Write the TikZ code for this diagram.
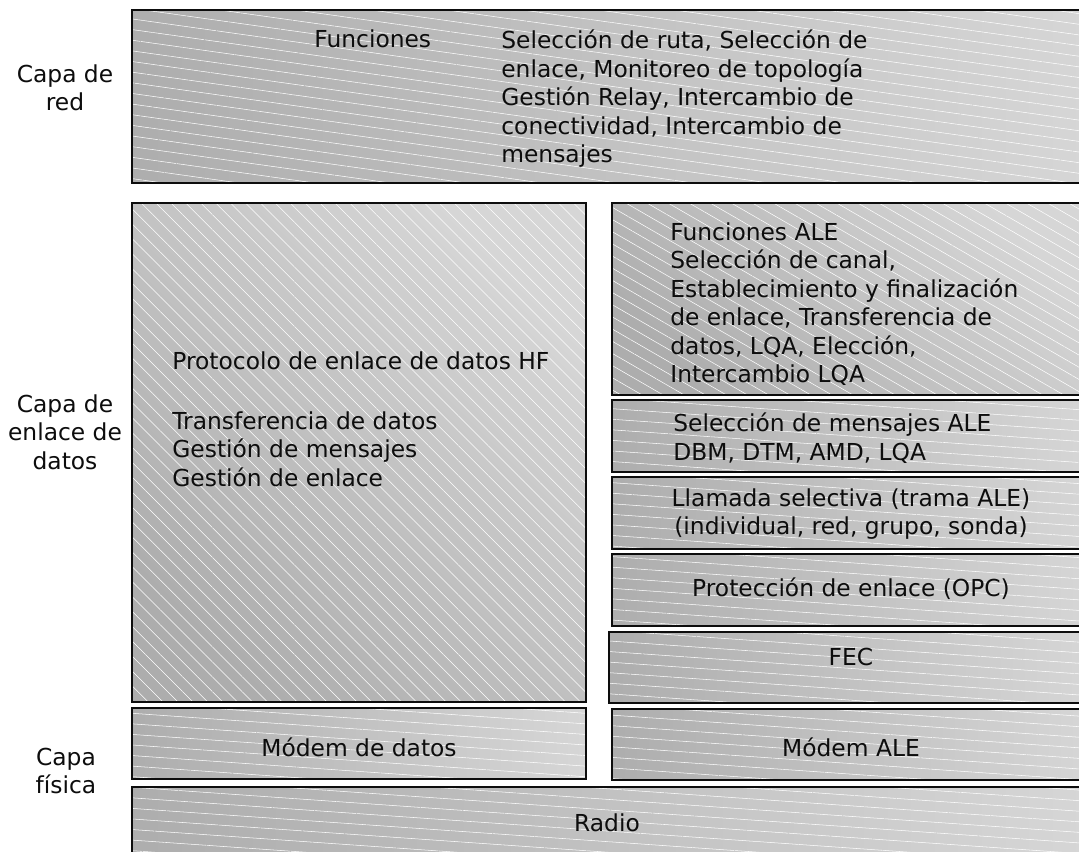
\documentclass[tikz,border=0pt]{standalone}
\usepackage{fontspec}
\setmainfont{DejaVu Sans}
\usetikzlibrary{fit,patterns.meta}
\definecolor{slate}{gray}{0.68}
\definecolor{mist}{gray}{0.84}
\definecolor{ink}{gray}{0.05}
\tikzset{
  layer/.style={left color=slate,right color=mist,inner sep=0pt,texture=#1,
    postaction={draw=ink,line width=1.2pt}},
  layer/.default=-4,
  texture/.style={postaction={pattern={Lines[angle=#1,distance=6pt,line width=0.3pt]},
    pattern color=white,fill opacity=0.11}},
  txt/.style={font=\fontsize{13.3}{16.2}\selectfont,text=ink,inner sep=0pt},
  side/.style={txt,align=center},
}

\begin{document}
\begin{tikzpicture}[x=0.02cm,y=-0.02cm]
  \useasboundingbox (0,0) rectangle (1079,852);
  \clip (0,0) rectangle (1079,852);
  % layer boxes
  \node[layer=-8,fit={(132,10)(1092,183)}] (netlayer) {};
  \node[layer=-45,shading angle=135,fit={(132,203)(586,702)}] (hfproto) {};
  \node[layer=-30,shading angle=135,fit={(612,203)(1092,395)}] (alefunc) {};
  \node[layer,fit={(612,400)(1092,472)}] (alemsg) {};
  \node[layer,fit={(612,477)(1092,549)}] (selcall) {};
  \node[layer,fit={(612,554)(1092,626)}] (linkprot) {};
  \node[layer,fit={(609,632)(1092,703)}] (fec) {};
  \node[layer,fit={(612,709)(1092,780)}] (alemodem) {};
  \node[layer,fit={(132,708)(586,779)}] (datamodem) {};
  \node[layer,fit={(132,787)(1092,870)}] (radio) {};
  % texts
  \node[txt,anchor=base west] (netfn) at (314,48) {Funciones};
  \node[txt,anchor=west,align=left] (netlist) at (501,99)
    {Selección de ruta, Selección de\\enlace, Monitoreo de topología\\Gestión Relay, Intercambio de\\conectividad, Intercambio de\\mensajes};
  \node[txt,anchor=base west] (hftitle) at (172,369) {Protocolo de enlace de datos HF};
  \node[txt,anchor=west,align=left] (hflist) at (172,449)
    {Transferencia de datos\\Gestión de mensajes\\Gestión de enlace};
  \node[txt,anchor=west,align=left] (alelist) at (670,304)
    {Funciones ALE\\Selección de canal,\\Establecimiento y finalización\\de enlace, Transferencia de\\datos, LQA, Elección,\\Intercambio LQA};
  \node[txt,anchor=west,align=left] (msglist) at (673,438)
    {Selección de mensajes ALE\\DBM, DTM, AMD, LQA};
  \node[txt,align=center] (calltxt) at (851,514)
    {Llamada selectiva (trama ALE)\\(individual, red, grupo, sonda)};
  \node[txt] (prottxt) at (851,589) {Protección de enlace (OPC)};
  \node[txt] (fectxt) at (851,657) {FEC};
  \node[txt] (aletxt) at (851,747) {Módem ALE};
  \node[txt] (datatxt) at (359,747) {Módem de datos};
  \node[txt] (radiotxt) at (607,823) {Radio};
  % layer names
  \node[side] (capared) at (65,88) {Capa de\\red};
  \node[side] (capaenl) at (65,432) {Capa de\\enlace de\\datos};
  \node[side] (capafis) at (66,771) {Capa\\física};
\end{tikzpicture}
\end{document}
